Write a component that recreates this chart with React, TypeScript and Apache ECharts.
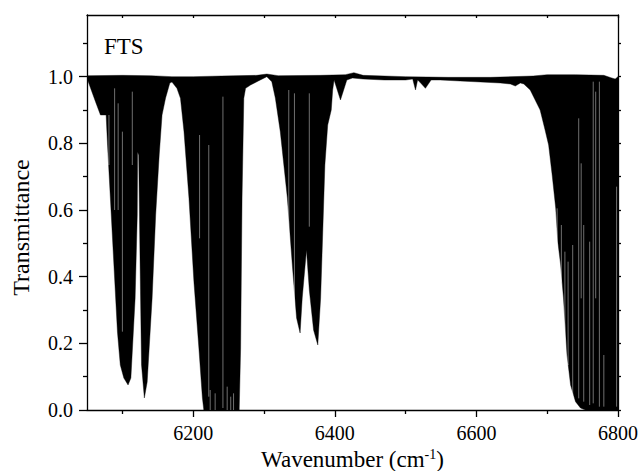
import React, { useEffect, useRef } from "react";
import * as echarts from "echarts";

// Lower envelope of the FTS transmittance spectrum (wavenumber, transmittance)
const lowerWave = [
  6050, 6062, 6069, 6077, 6079, 6083, 6088, 6093, 6097, 6102, 6108, 6112, 6118, 6121, 6121.5, 6123, 6125, 6127, 6131,
  6135, 6142, 6147, 6152, 6156, 6161, 6167, 6170, 6177, 6182, 6187, 6194, 6201, 6208, 6213, 6215, 6265, 6267, 6269,
  6271.5, 6274, 6281, 6292, 6304, 6311, 6316, 6323, 6333, 6340, 6346, 6351, 6354, 6360, 6364, 6370, 6376, 6380, 6383,
  6386, 6390, 6395, 6397, 6399, 6408, 6417, 6425, 6440, 6470, 6500, 6510, 6514, 6517, 6520, 6528, 6536, 6549, 6577,
  6606, 6634, 6648, 6655, 6662, 6667, 6676, 6683, 6690, 6697, 6702, 6707, 6712, 6715, 6719, 6723, 6728, 6733, 6740,
  6747, 6754, 6800,
];
const lowerTrans = [
  0.995, 0.925, 0.885, 0.885, 0.795, 0.636, 0.435, 0.234, 0.135, 0.096, 0.075, 0.096, 0.336, 0.585, 0.774, 0.765, 0.435,
  0.135, 0.036, 0.084, 0.336, 0.585, 0.765, 0.885, 0.936, 0.981, 0.984, 0.965, 0.935, 0.835, 0.636, 0.385, 0.186, 0.036,
  0.0, 0.0, 0.186, 0.636, 0.935, 0.965, 0.975, 0.987, 1.0, 0.985, 0.936, 0.835, 0.636, 0.435, 0.276, 0.231, 0.336, 0.48,
  0.36, 0.24, 0.195, 0.336, 0.535, 0.735, 0.855, 0.9, 0.96, 0.99, 0.93, 0.99, 0.996, 0.993, 0.99, 0.99, 0.993, 0.96,
  0.99, 0.984, 0.965, 0.99, 0.99, 0.987, 0.984, 0.981, 0.978, 0.972, 0.981, 0.978, 0.96, 0.93, 0.9, 0.84, 0.795, 0.705,
  0.606, 0.505, 0.435, 0.336, 0.165, 0.075, 0.025, 0.006, 0.0, 0.0,
];

// Upper envelope (baseline near 1.0)
const upperWave = [
  6050, 6100, 6140, 6170, 6200, 6240, 6290, 6304, 6320, 6380, 6415, 6427, 6440, 6500, 6560, 6620, 6680, 6700, 6740,
  6780, 6790, 6796, 6800,
];
const upperTrans = [
  1.003, 1.004, 1.003, 1.0, 1.0, 1.002, 1.004, 1.008, 1.003, 1.004, 1.006, 1.012, 1.004, 1.0, 0.998, 0.998, 1.002,
  1.006, 1.006, 1.004, 0.997, 0.993, 1.0,
];

// Narrow transmission gaps between individual lines (wavenumber, top, bottom)
const gapWave = [
  6081, 6089, 6094, 6100, 6114, 6209, 6222, 6224, 6231, 6242, 6248, 6253, 6257, 6335, 6343, 6364, 6714, 6720, 6725,
  6729.5, 6736, 6744.5, 6748, 6751.6, 6760, 6765, 6768.5, 6773.7, 6780, 6798,
];
const gapTop = [
  0.885, 0.965, 0.92, 0.835, 0.955, 0.825, 0.795, 0.06, 0.05, 0.94, 0.07, 0.04, 0.05, 0.96, 0.95, 0.95, 0.605, 0.555,
  0.475, 0.445, 0.495, 0.875, 0.74, 0.555, 0.505, 0.985, 0.955, 0.985, 0.165, 0.67,
];
const gapBottom = [
  0.735, 0.6, 0.6, 0.235, 0.735, 0.515, 0.04, 0, 0, 0.006, 0, 0, 0, 0.45, 0.3, 0.55, 0.475, 0.385, 0.205, 0.135, 0.035,
  0.035, 0.335, 0.025, 0.015, 0.02, 0.335, 0.01, 0.01, 0.01,
];

// Axis ticks
const xMajorTicks = [6200, 6400, 6600, 6800];
const xMinorTicks = [6100, 6300, 6500, 6700];
const xTopTicks = [6100, 6200, 6300, 6400, 6500, 6600, 6700, 6800];
const yMajorTicks = [0, 0.2, 0.4, 0.6, 0.8, 1.0];
const yMinorTicks = [0.1, 0.3, 0.5, 0.7, 0.9, 1.1];
const yRightTicks = [0, 0.1, 0.2, 0.3, 0.4, 0.5, 0.6, 0.7, 0.8, 0.9, 1.0, 1.1];

const FONT = '"Liberation Serif", "Times New Roman", serif';
const X_MIN = 6050;
const X_MAX = 6800;
const Y_MIN = 0;
const Y_MAX = 1.185;

export default function App() {
  const ref = useRef<HTMLDivElement>(null);

  useEffect(() => {
    if (!ref.current) return;
    const chart = echarts.init(ref.current, null, { renderer: "svg" });
    const line = { color: "#000", width: 1.3 };
    const baseX = {
      type: "value",
      min: X_MIN,
      max: X_MAX,
      splitLine: { show: false },
    };
    const baseY = {
      type: "value",
      min: Y_MIN,
      max: Y_MAX,
      splitLine: { show: false },
    };
    const gapData = gapWave.map((w, i) => [w, gapTop[i], gapBottom[i]]);

    chart.setOption({
      animation: false,
      backgroundColor: "#fff",
      grid: { left: 87, right: 23, top: 15, bottom: 61, outerBoundsMode: "none" },
      xAxis: [
        {
          ...baseX,
          position: "bottom",
          axisLine: { show: true, onZero: false, lineStyle: line },
          axisTick: { show: true, inside: false, length: 7, customValues: xMajorTicks, lineStyle: line },
          axisLabel: {
            show: true,
            customValues: xMajorTicks,
            formatter: (v: number) => String(Math.round(v)),
            margin: 13,
            color: "#000",
            fontFamily: FONT,
            fontSize: 20,
          },
          name: "Wavenumber (cm{sup|-1})",
          nameLocation: "middle",
          nameGap: 32,
          nameTextStyle: {
            color: "#000",
            fontFamily: FONT,
            fontSize: 23,
            lineHeight: 23,
            rich: { sup: { fontSize: 14, fontFamily: FONT, color: "#000", verticalAlign: "top", lineHeight: 23 } },
          },
        },
        {
          ...baseX,
          position: "bottom",
          axisLine: { show: false },
          axisTick: { show: true, inside: false, length: 4, customValues: xMinorTicks, lineStyle: line },
          axisLabel: { show: false },
        },
        {
          ...baseX,
          position: "top",
          axisLine: { show: true, onZero: false, lineStyle: line },
          axisTick: { show: true, inside: true, length: 3, customValues: xTopTicks, lineStyle: line },
          axisLabel: { show: false },
        },
      ],
      yAxis: [
        {
          ...baseY,
          position: "left",
          axisLine: { show: true, onZero: false, lineStyle: line },
          axisTick: { show: true, inside: false, length: 8, customValues: yMajorTicks, lineStyle: line },
          axisLabel: {
            show: true,
            customValues: yMajorTicks,
            formatter: (v: number) => v.toFixed(1),
            margin: 14,
            color: "#000",
            fontFamily: FONT,
            fontSize: 20,
          },
          name: "Transmittance",
          nameLocation: "middle",
          nameGap: 54,
          nameTextStyle: { color: "#000", fontFamily: FONT, fontSize: 24, padding: [0, 30, 0, 0] },
        },
        {
          ...baseY,
          position: "left",
          axisLine: { show: false },
          axisTick: { show: true, inside: false, length: 4, customValues: yMinorTicks, lineStyle: line },
          axisLabel: { show: false },
        },
        {
          ...baseY,
          position: "right",
          axisLine: { show: true, onZero: false, lineStyle: line },
          axisTick: { show: true, inside: false, length: 3, customValues: yRightTicks, lineStyle: line },
          axisLabel: { show: false },
        },
      ],
      graphic: [
        {
          type: "text",
          x: 104,
          y: 46,
          style: {
            text: "FTS",
            fill: "#000",
            font: `23px ${FONT}`,
            textVerticalAlign: "middle",
            verticalAlign: "middle",
          },
        },
      ],
      series: [
        {
          type: "custom",
          xAxisIndex: 0,
          yAxisIndex: 0,
          silent: true,
          clip: true,
          data: [[X_MIN, 1]],
          renderItem: (_params: any, api: any) => {
            const pts: number[][] = [];
            for (let i = 0; i < upperWave.length; i++) pts.push(api.coord([upperWave[i], upperTrans[i]]));
            for (let i = lowerWave.length - 1; i >= 0; i--) pts.push(api.coord([lowerWave[i], lowerTrans[i]]));
            return {
              type: "polygon",
              shape: { points: pts },
              style: { fill: "#000", stroke: "#000", lineWidth: 0.4 },
            };
          },
        },
        {
          type: "custom",
          xAxisIndex: 0,
          yAxisIndex: 0,
          silent: true,
          clip: true,
          data: gapData,
          encode: { x: 0, y: [1, 2] },
          renderItem: (_params: any, api: any) => {
            const a = api.coord([api.value(0), api.value(1)]);
            const b = api.coord([api.value(0), api.value(2)]);
            return {
              type: "line",
              shape: { x1: a[0], y1: a[1], x2: b[0], y2: b[1] },
              style: { stroke: "#fff", lineWidth: 0.8, opacity: 0.55 },
            };
          },
        },
      ],
    });
    return () => chart.dispose();
  }, []);

  return <div ref={ref} style={{ position: "absolute", left: 0, top: 0, width: 641, height: 471 }} />;
}
